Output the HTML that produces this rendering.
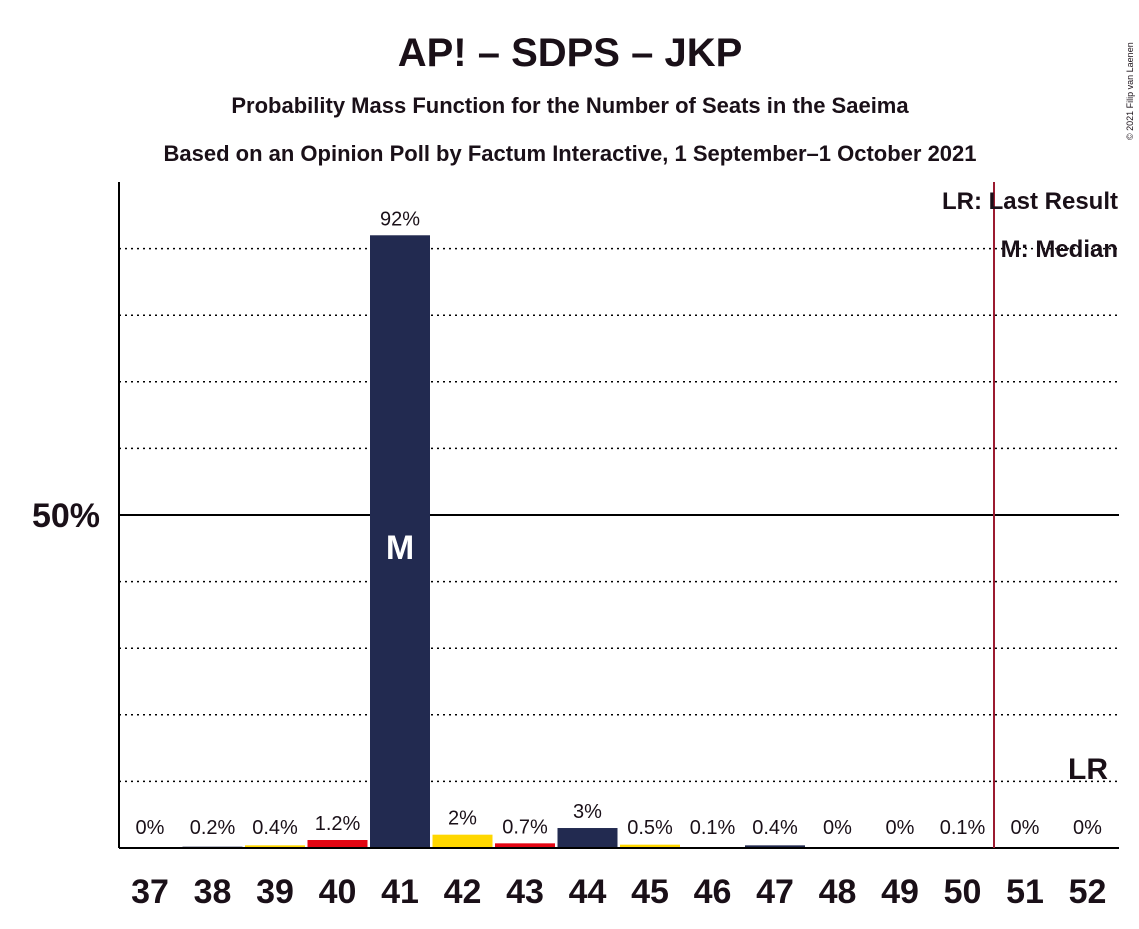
<!DOCTYPE html>
<html><head><meta charset="utf-8"><style>
body{margin:0;background:#fff;}
svg text{font-family:"Liberation Sans",sans-serif;fill:#1a1018;}
</style></head><body>
<svg id="chart" width="1139" height="924" xmlns="http://www.w3.org/2000/svg">
<text x="570" y="66" text-anchor="middle" font-size="40" font-weight="bold">AP! – SDPS – JKP</text>
<text x="570" y="113" text-anchor="middle" font-size="22" font-weight="bold">Probability Mass Function for the Number of Seats in the Saeima</text>
<text x="570" y="161" text-anchor="middle" font-size="22" font-weight="bold">Based on an Opinion Poll by Factum Interactive, 1 September–1 October 2021</text>
<text x="1133" y="140" font-size="9" transform="rotate(-90 1133 140)">© 2021 Filip van Laenen</text>
<g id="grid"></g>
<g id="bars"></g>
<line x1="119" y1="182" x2="119" y2="848" stroke="#000" stroke-width="2"/>
<line x1="119" y1="848" x2="1119" y2="848" stroke="#000" stroke-width="2"/>
<line x1="994" y1="182" x2="994" y2="848" stroke="#9b1b30" stroke-width="2"/>
<text x="1118" y="209" text-anchor="end" font-size="24" font-weight="bold">LR: Last Result</text>
<text x="1118" y="257" text-anchor="end" font-size="24" font-weight="bold">M: Median</text>
<text x="1088" y="779" text-anchor="middle" font-size="30" font-weight="bold">LR</text>
</svg>
<script>
const seats=[37,38,39,40,41,42,43,44,45,46,47,48,49,50,51,52];
const probs=[0,0.2,0.4,1.2,92,2,0.7,3,0.5,0.1,0.4,0,0,0.1,0,0];
const labels=["0%","0.2%","0.4%","1.2%","92%","2%","0.7%","3%","0.5%","0.1%","0.4%","0%","0%","0.1%","0%","0%"];
const median=41;
const gridTicks=[10,20,30,40,50,60,70,80,90];
const NS="http://www.w3.org/2000/svg";
const y=v=>848-v*6.66;
const x=s=>150+(s-37)*62.5;
const colors=["#FFD700","#E30613","#222A50"];
const grid=document.getElementById('grid'),bars=document.getElementById('bars'),svg=document.getElementById('chart');
function mk(t,a,p){const e=document.createElementNS(NS,t);for(const k in a)e.setAttribute(k,a[k]);p.appendChild(e);return e;}
gridTicks.forEach(g=>{
 const l=mk('line',{x1:119,x2:1119,y1:y(g),y2:y(g),stroke:'#000','stroke-width':g===50?2:1.5,'stroke-dasharray':g===50?'':'2,4'},grid);
 
 
});
const yl=mk('text',{x:100,y:y(50)+12,'text-anchor':'end','font-size':34,'font-weight':'bold'},svg);
yl.textContent='50%';


seats.forEach((s,i)=>{
 const h=probs[i]*6.66;
 const r=mk('rect',{x:x(s)-30,y:848-h,width:60,height:h,fill:colors[s%3]},bars);
 
 
 if(s===median){
  const m=mk('text',{x:x(s),y:y(50)+44,'text-anchor':'middle','font-size':34,'font-weight':'bold',style:'fill:#fff'},bars);
  m.textContent='M';
  
  
 }
 const t=mk('text',{x:x(s),y:Math.min(848-h-10,834),'text-anchor':'middle','font-size':20},bars);
 t.textContent=labels[i];
 
 
 const xt=mk('text',{x:x(s),y:903,'text-anchor':'middle','font-size':34,'font-weight':'bold'},svg);
 xt.textContent=s;
 
 
});
</script>
</body></html>
